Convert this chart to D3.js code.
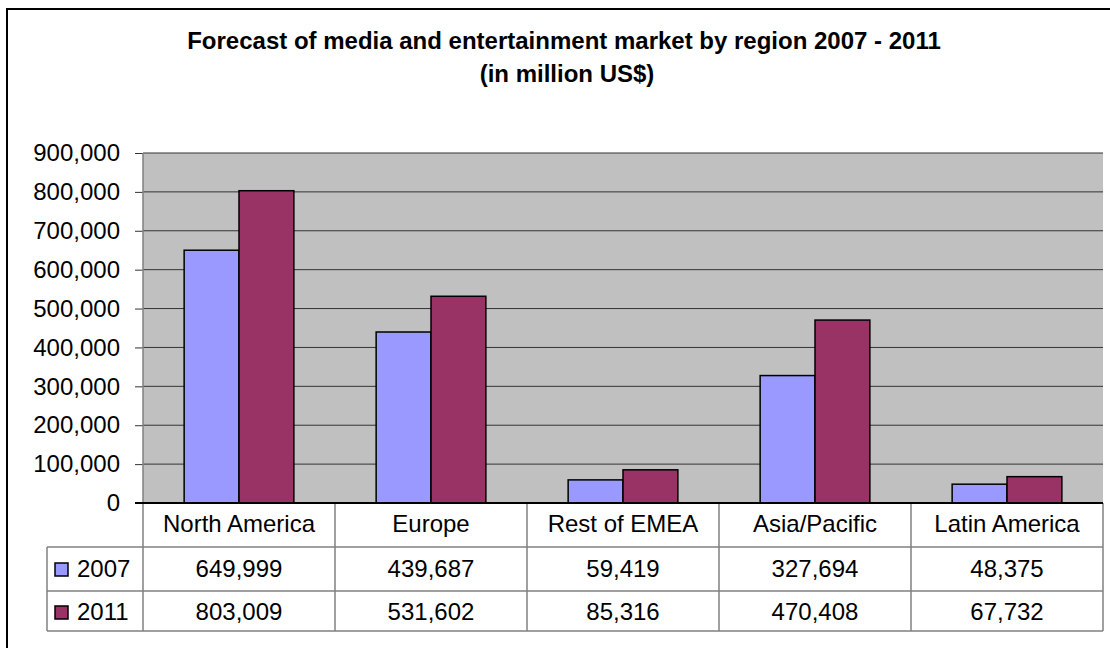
<html>
<head>
<script src="https://d3js.org/d3.v7.min.js"></script>
<style>
  body { margin: 0; background: #fff; }
  text { font-family: "Liberation Sans", Arial, sans-serif; fill: #000; }
</style>
</head>
<body>
<svg id="chart" width="1110" height="648"></svg>
<script>
const regions = ["North America", "Europe", "Rest of EMEA", "Asia/Pacific", "Latin America"];
const years = ["2007", "2011"];
const values2007 = [649999, 439687, 59419, 327694, 48375];
const values2011 = [803009, 531602, 85316, 470408, 67732];
const yTicks = [0, 100000, 200000, 300000, 400000, 500000, 600000, 700000, 800000, 900000];
const colors = { "2007": "#9999ff", "2011": "#993366" };

const series = { "2007": values2007, "2011": values2011 };

const svg = d3.select("svg#chart");
const plot = { left: 143, right: 1103, top: 153, bottom: 503 };
const rows = [503, 547, 591, 631]; // table row edges
const tableLeft = 47;

// outer chart border (right/bottom run off the picture)
svg.append("rect")
  .attr("x", 7).attr("y", 9)
  .attr("width", 1120).attr("height", 660)
  .attr("fill", "none").attr("stroke", "#000").attr("stroke-width", 2);

// title
svg.append("text")
  .attr("x", 564).attr("y", 49)
  .attr("text-anchor", "middle")
  .style("font-size", "24px").style("font-weight", "bold")
  .text("Forecast of media and entertainment market by region 2007 - 2011");
svg.append("text")
  .attr("x", 567).attr("y", 82)
  .attr("text-anchor", "middle")
  .style("font-size", "24px").style("font-weight", "bold")
  .text("(in million US$)");

const xScale = d3.scaleBand().domain(regions).range([plot.left, plot.right]).padding(0);
const xSub = d3.scaleBand().domain(years).range([0, xScale.bandwidth()]).paddingInner(0).paddingOuter(0.75);
const yScale = d3.scaleLinear().domain([0, 900000]).range([plot.bottom, plot.top]);

// plot background
svg.append("rect")
  .attr("x", plot.left).attr("y", plot.top)
  .attr("width", plot.right - plot.left).attr("height", plot.bottom - plot.top)
  .attr("fill", "#c0c0c0");

// gridlines
svg.append("g").selectAll("line").data(yTicks.filter(d => d > 0))
  .join("line")
  .attr("x1", plot.left).attr("x2", plot.right)
  .attr("y1", d => yScale(d)).attr("y2", d => yScale(d))
  .attr("stroke", "#333").attr("stroke-width", 1);

// left axis
const leftAxis = d3.axisLeft(yScale)
  .tickValues(yTicks)
  .tickFormat(d3.format(","))
  .tickSize(8)
  .tickPadding(15);
const yAxis = svg.append("g")
  .attr("transform", `translate(${plot.left},0)`)
  .call(leftAxis);
yAxis.select(".domain").remove();
yAxis.selectAll(".tick line").attr("stroke", "#333");
yAxis.selectAll("text")
  .style("font-size", "24px")
  .style("font-family", "'Liberation Sans', Arial, sans-serif")
  .attr("fill", "#000");

// bars
const barData = [];
regions.forEach((r, i) => years.forEach(y => barData.push({ region: r, year: y, value: series[y][i] })));
svg.append("g").selectAll("rect").data(barData)
  .join("rect")
  .attr("x", d => xScale(d.region) + xSub(d.year))
  .attr("y", d => yScale(d.value))
  .attr("width", xSub.bandwidth())
  .attr("height", d => yScale(0) - yScale(d.value))
  .attr("fill", d => colors[d.year])
  .attr("stroke", "#000").attr("stroke-width", 1.5);

// table lines
const table = svg.append("g").attr("stroke", "#808080").attr("stroke-width", 1.5);
[rows[1], rows[2], rows[3]].forEach(y => {
  table.append("line").attr("x1", tableLeft).attr("x2", plot.right).attr("y1", y).attr("y2", y);
});
table.append("line").attr("x1", tableLeft).attr("x2", tableLeft).attr("y1", rows[1]).attr("y2", rows[3]);
const colEdges = regions.map(r => xScale(r)).concat([plot.right]);
table.selectAll("line.col").data(colEdges)
  .join("line").attr("class", "col")
  .attr("x1", d => d).attr("x2", d => d)
  .attr("y1", (d, i) => i === 0 ? plot.top : rows[0]).attr("y2", rows[3]);

// zero line
svg.append("line")
  .attr("x1", plot.left - 8).attr("x2", plot.right)
  .attr("y1", yScale(0)).attr("y2", yScale(0))
  .attr("stroke", "#000").attr("stroke-width", 2);

// category labels
svg.append("g").selectAll("text").data(regions)
  .join("text")
  .attr("x", d => xScale(d) + xScale.bandwidth() / 2)
  .attr("y", 532)
  .attr("text-anchor", "middle")
  .style("font-size", "24px")
  .text(d => d);

// value rows
const rowBase = { "2007": 577, "2011": 620 };
years.forEach(y => {
  svg.append("g").selectAll("text").data(regions)
    .join("text")
    .attr("x", d => xScale(d) + xScale.bandwidth() / 2)
    .attr("y", rowBase[y])
    .attr("text-anchor", "middle")
    .style("font-size", "24px")
    .text((d, i) => d3.format(",")(series[y][i]));
  svg.append("rect")
    .attr("x", 55).attr("y", rowBase[y] - 14)
    .attr("width", 13).attr("height", 13)
    .attr("fill", colors[y]).attr("stroke", "#000").attr("stroke-width", 1.5);
  svg.append("text")
    .attr("x", 77).attr("y", rowBase[y])
    .style("font-size", "24px")
    .text(y);
});
</script>
</body>
</html>
